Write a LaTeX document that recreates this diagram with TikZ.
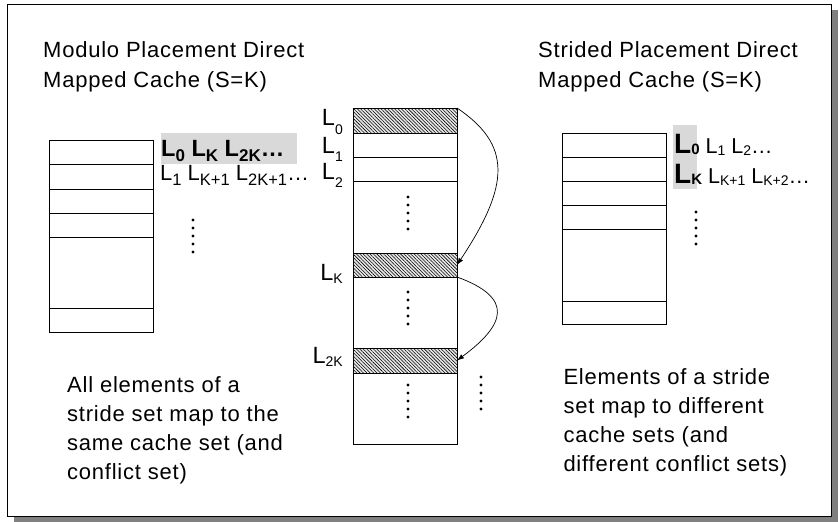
\documentclass[tikz,border=0pt]{standalone}
\usepackage{fontspec}
\setmainfont{Liberation Sans}
\newfontfamily\bodyfont{Liberation Sans}[LetterSpace=3.5]
\usetikzlibrary{arrows.meta,patterns.meta}
\definecolor{hlgray}{HTML}{D9D9D9}
\definecolor{shadowgray}{HTML}{808080}
% subscript: size, drop below baseline, text
\newcommand\lsub[3]{\raisebox{-#2pt}{\fontsize{#1}{#1}\selectfont #3}}
\begin{document}
\begin{tikzpicture}[x=1pt,y=-1pt,
  cell/.style={draw, line width=0.9pt, anchor=north west, minimum width=104pt,
    inner sep=0pt, outer sep=0pt},
  hatched/.style={cell, preaction={fill=gray!18},
    pattern={Lines[angle=-45,distance=2.4pt,line width=0.55pt]}},
  hilite/.style={fill=hlgray, anchor=north west, inner sep=0pt, outer sep=0pt},
  txt/.style={anchor=base west, inner sep=0pt, font=\bodyfont\fontsize{22}{26}\selectfont},
  lab/.style={anchor=base east, inner sep=0pt, font=\fontsize{23.5}{23.5}\selectfont},
  row/.style={anchor=base west, inner sep=0pt},
  conn/.style={line width=0.7pt, -{Latex[length=7pt,width=5pt]}},
  dotr/.style={fill=black}]
\useasboundingbox (0,0) rectangle (839,522);

% frame with drop shadow
\fill[shadowgray] (14,10) rectangle (838,522);
\draw[fill=white, line width=1pt] (7,4) rectangle (831,516);

% titles
\node[txt] (tl1) at (43,57.3) {Modulo Placement Direct};
\node[txt] (tl2) at (43,87.3) {Mapped Cache (S=K)};
\node[txt] (tr1) at (538,57.3) {Strided Placement Direct};
\node[txt] (tr2) at (538,87.3) {Mapped Cache (S=K)};

% modulo-placed cache
\node[cell, minimum height=24pt] (c1) at (49,140) {};
\node[cell, minimum height=25pt] (c2) at (49,164) {};
\node[cell, minimum height=24pt] (c3) at (49,189) {};
\node[cell, minimum height=24pt] (c4) at (49,213) {};
\node[cell, minimum height=71pt] (c5) at (49,237) {};
\node[cell, minimum height=24pt] (c6) at (49,308) {};

\node[hilite, minimum width=136pt, minimum height=31pt] (hlA) at (161,133) {};
\node[row, font=\bfseries\fontsize{23.5}{23.5}\selectfont] (ra1) at (161,156.7)
  {L\lsub{17}{4.5}{0} L\lsub{17}{4.5}{K} L\lsub{17}{4.5}{2K}…};
\node[row, font=\fontsize{22}{22}\selectfont] (ra2) at (160,180)
  {L\lsub{16.5}{5}{1} L\lsub{16.5}{5}{K+1} L\lsub{16.5}{5}{2K+1}…};

% memory lines
\node[hatched, minimum height=25pt] (m0) at (353,108) {};
\node[cell, minimum height=24pt] (m1) at (353,133) {};
\node[cell, minimum height=24pt] (m2) at (353,157) {};
\node[cell, minimum height=72pt] (m3) at (353,181) {};
\node[hatched, minimum height=24pt] (mK) at (353,253) {};
\node[cell, minimum height=71pt] (m5) at (353,277) {};
\node[hatched, minimum height=25pt] (m2K) at (353,348) {};
\node[cell, minimum height=71pt] (m7) at (353,373) {};

\node[lab] (l0) at (343,125.7) {L\lsub{14}{8.5}{0}};
\node[lab] (l1) at (343,153.3) {L\lsub{14}{8.5}{1}};
\node[lab] (l2) at (343,179) {L\lsub{14}{8.5}{2}};
\node[lab] (lK) at (343,280.7) {L\lsub{14}{2.5}{K}};
\node[lab] (l2K) at (343,363.5) {L\lsub{14}{3}{2K}};

\draw[conn] (m0.north east) .. controls (512,145) and (510,185) .. (mK.east);
\draw[conn] (mK.south east) .. controls (515,298) and (505,325) .. (m2K.east);

% strided-placed cache
\node[cell, minimum height=24pt] (s1) at (562,133) {};
\node[cell, minimum height=24pt] (s2) at (562,157) {};
\node[cell, minimum height=24pt] (s3) at (562,181) {};
\node[cell, minimum height=24pt] (s4) at (562,205) {};
\node[cell, minimum height=72pt] (s5) at (562,229) {};
\node[cell, minimum height=23pt] (s6) at (562,301) {};

\node[hilite, minimum width=24pt, minimum height=64pt] (hlB) at (673,125) {};
\node[row, font=\fontsize{21.5}{21.5}\selectfont] (rb1) at (674,153.3)
  {{\bfseries\fontsize{28}{28}\selectfont L\lsub{15}{1.5}{0}} L\lsub{14}{2}{1} L\lsub{14}{2}{2}…};
\node[row, font=\fontsize{21.5}{21.5}\selectfont] (rb2) at (674,183.3)
  {{\bfseries\fontsize{28}{28}\selectfont L\lsub{15}{1.5}{K}} L\lsub{14}{2}{K+1} L\lsub{14}{2}{K+2}…};

% vertical ellipses
\foreach \px/\py in {193/220, 408/197, 408/292, 408/385, 481/377, 696/212}
  \foreach \k in {0,...,4}
    \fill[dotr] (\px,\py+8*\k) circle (1.6pt);

% captions
\node[txt] (bl1) at (67,392.7) {All elements of a};
\node[txt] (bl2) at (67,421.7) {stride set map to the};
\node[txt] (bl3) at (67,450.7) {same cache set (and};
\node[txt] (bl4) at (67,479.7) {conflict set)};
\node[txt] (br1) at (563.3,384.7) {Elements of a stride};
\node[txt] (br2) at (563.3,413.7) {set map to different};
\node[txt] (br3) at (563.3,442.7) {cache sets (and};
\node[txt] (br4) at (563.3,471.7) {different conflict sets)};
\end{tikzpicture}
\end{document}
